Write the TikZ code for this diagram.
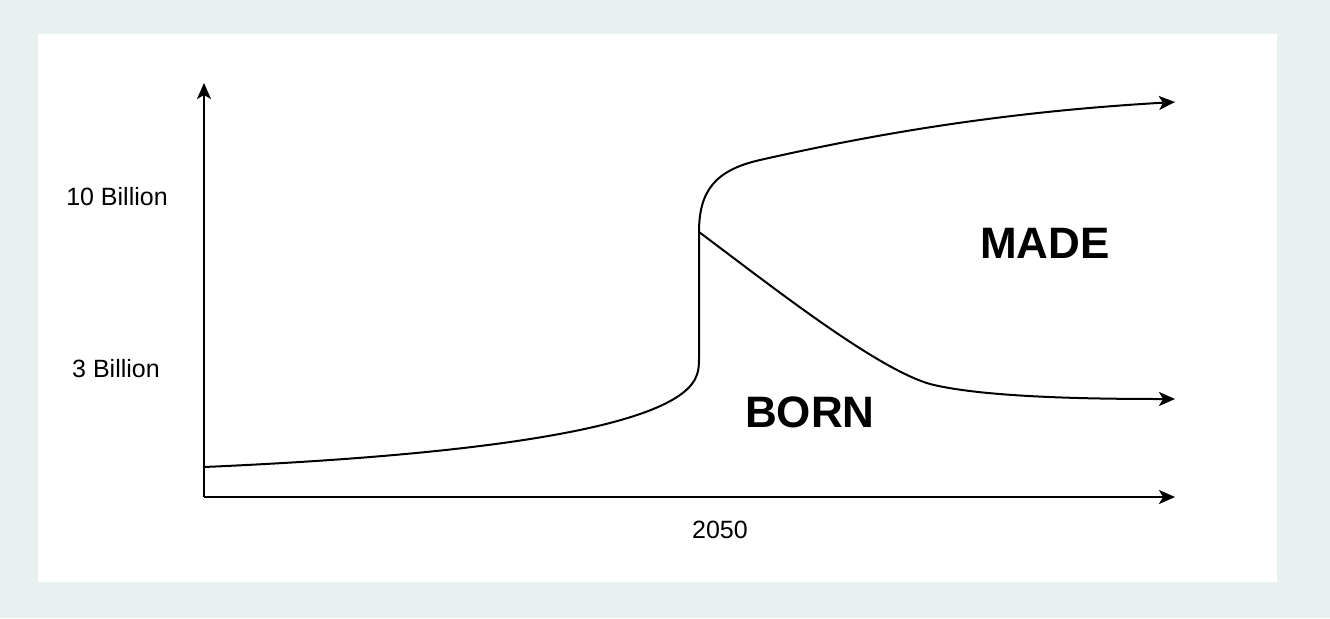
\documentclass[tikz,border=0pt]{standalone}
\usepackage{fontspec}
\setmainfont{Liberation Sans}
\usetikzlibrary{arrows.meta}
\definecolor{bgc}{HTML}{E8F1F0}
\tikzset{
  axis/.style={line width=1pt,-{Stealth[length=8pt,width=7pt,inset=2pt]}},
  curve/.style={line width=1pt},
  curvearrow/.style={line width=1pt,-{Stealth[length=8pt,width=7pt,inset=2pt]}},
  lbl/.style={font=\fontsize{12.5}{14}\selectfont,inner sep=0pt},
  big/.style={font=\fontsize{22}{26}\selectfont\bfseries,inner sep=0pt}
}
\begin{document}
\begin{tikzpicture}[x=0.5pt,y=-0.5pt]
\useasboundingbox (0,0) rectangle (1330,618);
\fill[bgc] (0,0) rectangle (1330,618);
\fill[white] (38,34) rectangle (1277,582);
\coordinate (O) at (204,497);
\coordinate (ytop) at (204,83);
\coordinate (xend) at (1175,497);
\coordinate (start) at (204,467);
\coordinate (knee) at (699,358);
\coordinate (split) at (699,232);
\coordinate (topend) at (1175,102);
\coordinate (botend) at (1175,399);
\draw[axis] (O) -- (ytop);
\draw[axis] (O) -- (xend);
\draw[curve] (start) .. controls (480,455) and (665,428) .. (694,381) .. controls (699,372) and (699,366) .. (knee) -- (split);
\draw[curvearrow] (split) .. controls (699,190) and (716,170) .. (760,160) .. controls (870,135) and (1000,112) .. (topend);
\draw[curvearrow] (split) .. controls (770,285) and (875,368) .. (930,384) .. controls (985,398) and (1100,399) .. (botend);
\node[lbl] (t10) at (117,197) {10 Billion};
\node[lbl] (t3) at (116,369) {3 Billion};
\node[lbl] (t2050) at (720,530) {2050};
\node[big] (made) at (1045,243) {MADE};
\node[big] (born) at (810,412) {BORN};
\end{tikzpicture}
\end{document}
